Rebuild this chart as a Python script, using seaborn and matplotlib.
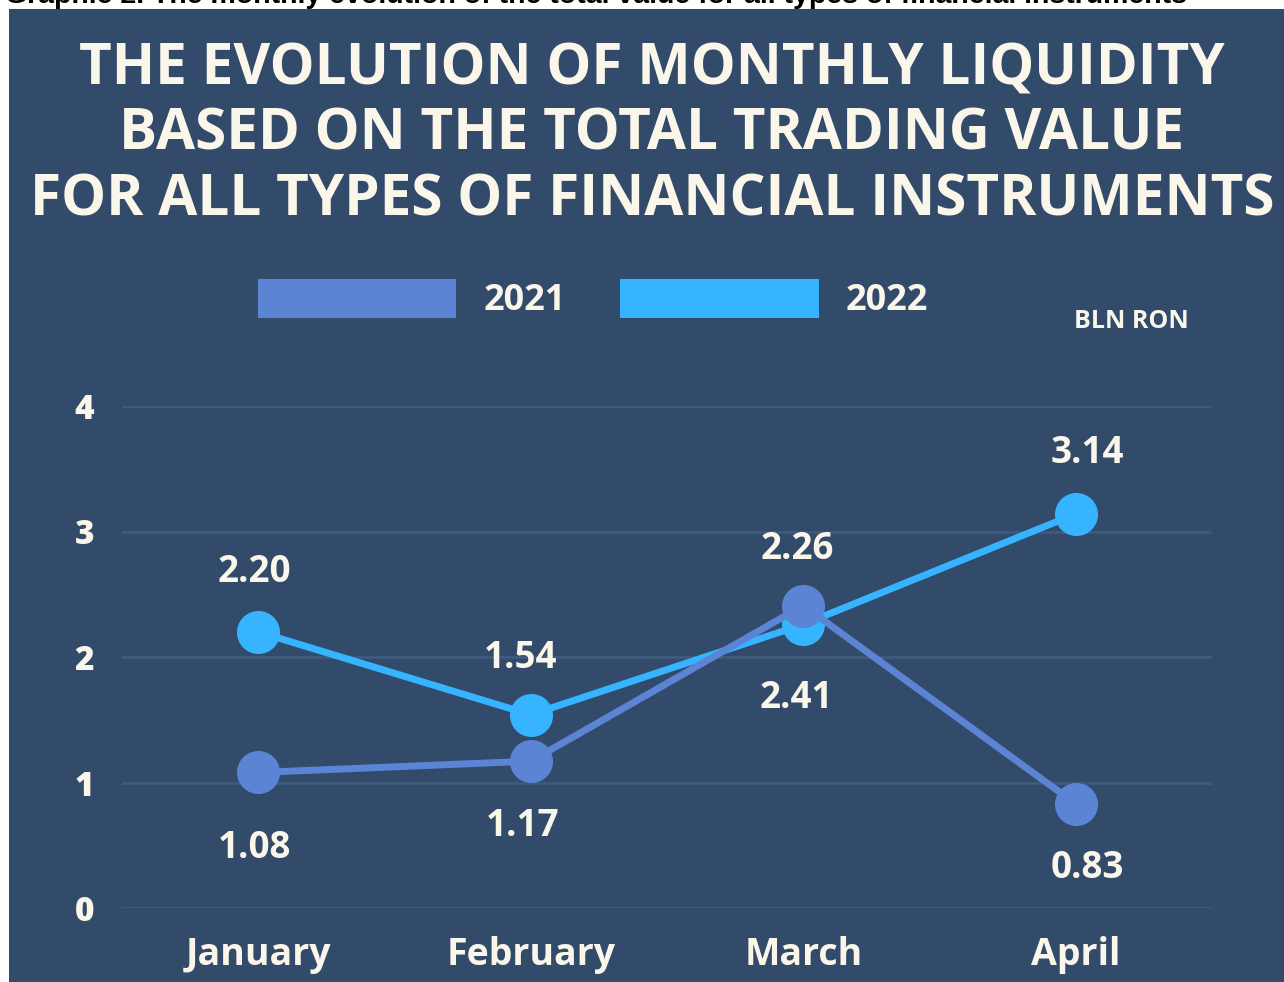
import pandas as pd
import matplotlib.pyplot as plt
import seaborn as sns
from matplotlib.patches import Rectangle, Patch

# data
months = ["January", "February", "March", "April"]
values_2021 = [1.08, 1.17, 2.41, 0.83]
values_2022 = [2.20, 1.54, 2.26, 3.14]
y_ticks = [0, 1, 2, 3, 4]

title_lines = [
    "THE EVOLUTION OF MONTHLY LIQUIDITY",
    "BASED ON THE TOTAL TRADING VALUE",
    "FOR ALL TYPES OF FINANCIAL INSTRUMENTS",
]
caption = "Graphic 2. The monthly evolution of the total value for all types of financial instruments"
unit_label = "BLN RON"

# label offsets in pixels (dx, dy) relative to each point
offsets_2021 = [(-4, -76), (-8, -65), (-7, -92), (12, -64)]
offsets_2022 = [(-4, 60), (-10, 57), (-6, 75), (12, 61)]

BG = "#324B6A"
GRID = "#3F5A7C"
TXT = "#FBF6EA"
C2021 = "#5B84D4"
C2022 = "#36B4FF"

W, H = 1284, 982
sns.set_theme(style="white")
plt.rcParams["font.family"] = ["Open Sans", "DejaVu Sans"]

df = pd.DataFrame({
    "month": months * 2,
    "value": values_2022 + values_2021,
    "year": ["2022"] * 4 + ["2021"] * 4,
})

fig = plt.figure(figsize=(W / 100, H / 100), dpi=100, facecolor="white")
panel = Rectangle((9 / W, 0), 1 - 9 / W, 1 - 9 / H, transform=fig.transFigure,
                  facecolor=BG, edgecolor="none", zorder=-10)
fig.add_artist(panel)

ax = fig.add_axes([122 / W, 1 - 908 / H, 1090 / W, 502 / H])
ax.set_facecolor(BG)
ax.patch.set_alpha(0)

sns.lineplot(data=df, x="month", y="value", hue="year", hue_order=["2022", "2021"],
             palette={"2021": C2021, "2022": C2022}, marker="o", markersize=31,
             markeredgewidth=0, linewidth=5, sort=False, legend=False, ax=ax)
for ln in ax.lines:
    ln.set_clip_on(False)

ax.set_xlim(-0.5, 3.5)
ax.set_ylim(0, 4)
ax.set_yticks(y_ticks)
ax.set_xlabel("")
ax.set_ylabel("")
ax.grid(axis="y", color=GRID, linewidth=2)
ax.set_axisbelow(True)
for s in ax.spines.values():
    s.set_visible(False)
ax.tick_params(axis="both", length=0, colors=TXT)
ax.tick_params(axis="y", pad=20)
ax.tick_params(axis="x", pad=20)
for t in ax.get_yticklabels():
    t.set_fontsize(24)
    t.set_fontweight("heavy")
    t.set_color(TXT)
for t in ax.get_xticklabels():
    t.set_fontsize(27)
    t.set_fontweight("bold")
    t.set_color(TXT)

# value labels
for i, (v, off) in enumerate(zip(values_2021, offsets_2021)):
    ax.annotate(f"{v:.2f}", (i, v), xytext=off, textcoords="offset pixels",
                ha="center", va="center", fontsize=26.5, fontweight="bold",
                color=TXT, annotation_clip=False)
for i, (v, off) in enumerate(zip(values_2022, offsets_2022)):
    ax.annotate(f"{v:.2f}", (i, v), xytext=off, textcoords="offset pixels",
                ha="center", va="center", fontsize=26.5, fontweight="bold",
                color=TXT, annotation_clip=False)

# title
for line, base in zip(title_lines, [84, 150, 215]):
    fig.text(652 / W, 1 - base / H, line, ha="center", va="baseline",
             fontsize=40.8, fontweight="bold", color=TXT)

# cut-off caption at the very top
fig.text(5 / W, 1 - 3 / H, caption, ha="left", va="baseline",
         fontsize=20.5, fontweight="bold", color="black",
         family=["Liberation Sans", "DejaVu Sans"])

# legend
handles = [Patch(facecolor=C2021, edgecolor="none", label="2021"),
           Patch(facecolor=C2022, edgecolor="none", label="2022")]
leg = fig.legend(handles=handles, loc="center", bbox_to_anchor=(593 / W, 1 - 299 / H),
                 ncol=2, frameon=False, handlelength=5.5, handleheight=1.3,
                 handletextpad=0.75, columnspacing=1.5,
                 prop={"size": 26, "weight": "bold"})
for t in leg.get_texts():
    t.set_color(TXT)

fig.text(1131 / W, 1 - 322 / H, unit_label, ha="center", va="center",
         fontsize=18, fontweight="bold", color=TXT)

fig.savefig("out.png", dpi=100, facecolor=fig.get_facecolor())
